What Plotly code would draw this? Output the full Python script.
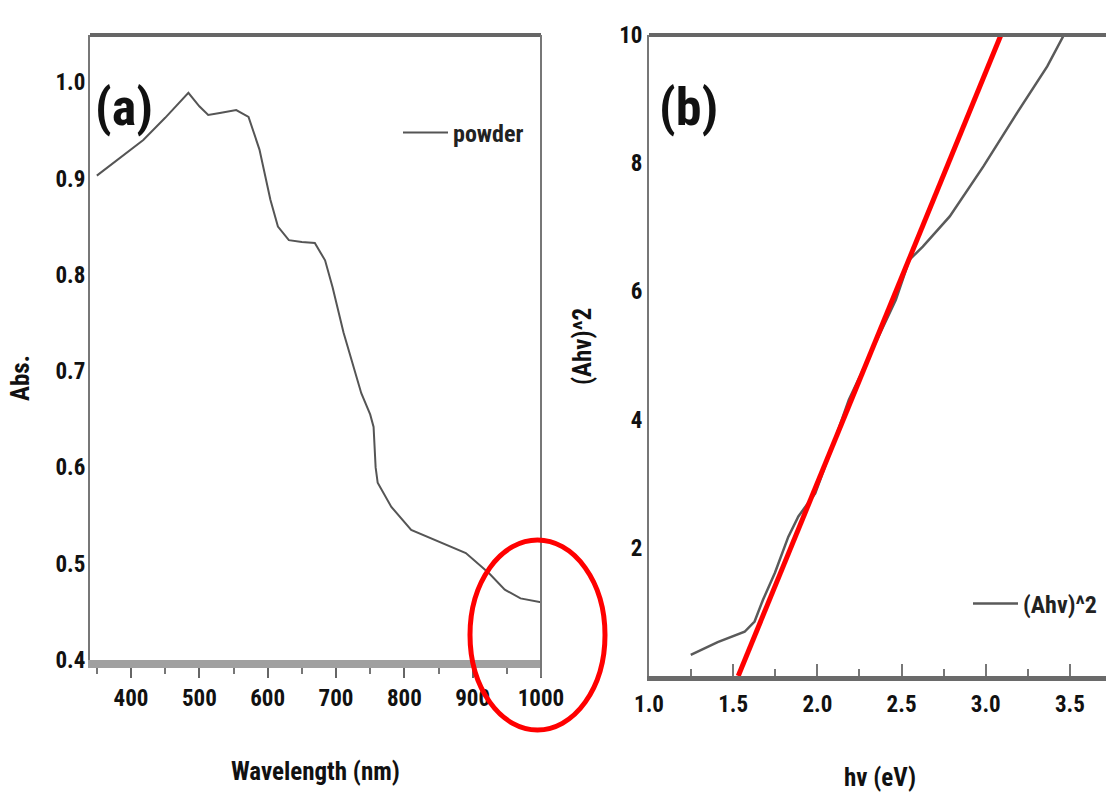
import plotly.graph_objects as go

# ---------------- data ----------------
wavelength = [350, 370, 400, 418, 450, 484, 500, 513, 530, 554, 572, 588, 604, 615,
              631, 650, 669, 684, 695, 711, 737, 741, 750, 755, 758, 761, 781, 810,
              833, 860, 890, 924, 947, 970, 1000]
absorbance = [0.903, 0.914, 0.930, 0.940, 0.963, 0.989, 0.975, 0.966, 0.968, 0.971,
              0.964, 0.930, 0.878, 0.850, 0.836, 0.834, 0.833, 0.815, 0.787, 0.740,
              0.677, 0.670, 0.655, 0.642, 0.600, 0.584, 0.559, 0.535, 0.528, 0.520,
              0.511, 0.490, 0.473, 0.464, 0.460]

photon_energy = [1.248, 1.408, 1.568, 1.627, 1.677, 1.748, 1.827, 1.887, 1.987, 2.067,
                 2.187, 2.326, 2.466, 2.546, 2.626, 2.786, 2.986, 3.185, 3.365, 3.464]
ahv_squared = [0.33, 0.53, 0.69, 0.85, 1.19, 1.61, 2.17, 2.49, 2.85, 3.42,
               4.31, 5.09, 5.87, 6.49, 6.70, 7.17, 7.95, 8.78, 9.51, 10.0]

fit_energy = [1.53, 3.09]
fit_value = [0.0, 10.0]

wl_ticks = [400, 500, 600, 700, 800, 900, 1000]
wl_minor = [350, 450, 550, 650, 750, 850, 950]
abs_ticks = [0.4, 0.5, 0.6, 0.7, 0.8, 0.9, 1.0]
abs_ticktext = ["0.4", "0.5", "0.6", "0.7", "0.8", "0.9", "1.0"]
ev_ticks = [1.0, 1.5, 2.0, 2.5, 3.0, 3.5]
ev_ticktext = ["1.0", "1.5", "2.0", "2.5", "3.0", "3.5"]
ev_minor = [1.25, 1.75, 2.25, 2.75, 3.25]
ahv_ticks = [2, 4, 6, 8, 10]

# ---------------- layout helpers ----------------
W, H = 1106, 803


def px(x):
    return x / W


def py(y):
    return 1 - y / H


FONT = "Roboto Condensed, Liberation Sans Narrow, Arial Narrow, Roboto, Liberation Sans, sans-serif"
tickfont = dict(family=FONT, size=23, color="#111", weight="bold")

fig = go.Figure()
fig.add_trace(go.Scatter(x=wavelength, y=absorbance, xaxis="x", yaxis="y", mode="lines",
                         line=dict(color="#555555", width=2), name="powder", legend="legend"))
fig.add_trace(go.Scatter(x=photon_energy, y=ahv_squared, xaxis="x2", yaxis="y2", mode="lines",
                         line=dict(color="#5a5a5a", width=2.5), name="(Ahv)^2", legend="legend2"))
fig.add_trace(go.Scatter(x=fit_energy, y=fit_value, xaxis="x2", yaxis="y2", mode="lines",
                         line=dict(color="#ff0000", width=5), showlegend=False))

fig.update_layout(
    template="none",
    width=W, height=H,
    margin=dict(l=0, r=0, t=0, b=0, pad=0, autoexpand=False),
    paper_bgcolor="white", plot_bgcolor="white",
    font=dict(family=FONT, color="#111"),
    xaxis=dict(domain=[px(90), px(541)], range=[340, 1000], anchor="y", automargin=False,
               showline=True, linecolor="#a0a0a0", linewidth=8,
               ticks="outside", ticklen=10, tickwidth=2, tickcolor="#666",
               tickvals=wl_ticks, tickfont=tickfont, ticklabelstandoff=0,
               minor=dict(ticks="outside", tickvals=wl_minor, ticklen=6, tickwidth=2, tickcolor="#777"),
               showgrid=False, zeroline=False),
    yaxis=dict(domain=[py(660), py(35)], range=[0.4, 1.049], anchor="x", automargin=False,
               showline=True, linecolor="#777", linewidth=2, ticks="",
               tickvals=abs_ticks, ticktext=abs_ticktext, tickfont=tickfont,
               ticklabelstandoff=-2, showgrid=False, zeroline=False),
    xaxis2=dict(domain=[px(649), 1.0], range=[1.0, 3.714], anchor="y2", automargin=False,
                showline=True, linecolor="#6a6a6a", linewidth=5,
                ticks="inside", ticklen=12, tickwidth=2, tickcolor="#777",
                tickvals=ev_ticks, ticktext=ev_ticktext, tickfont=tickfont,
                ticklabelstandoff=3,
                minor=dict(ticks="inside", tickvals=ev_minor, ticklen=7, tickwidth=2, tickcolor="#777"),
                showgrid=False, zeroline=False),
    yaxis2=dict(domain=[py(676), py(35)], range=[0, 10], anchor="x2", automargin=False,
                showline=True, linecolor="#777", linewidth=2, ticks="",
                tickvals=ahv_ticks, tickfont=tickfont, ticklabelstandoff=0,
                showgrid=False, zeroline=False),
    legend=dict(x=px(398), y=py(133), xanchor="left", yanchor="middle", itemwidth=45,
                bgcolor="rgba(0,0,0,0)", font=dict(family=FONT, size=24, color="#222", weight="bold")),
    legend2=dict(x=px(968), y=py(604), xanchor="left", yanchor="middle", itemwidth=45,
                 bgcolor="rgba(0,0,0,0)", font=dict(family=FONT, size=24, color="#222", weight="bold")),
    showlegend=True,
)

# frame lines
fig.add_shape(type="line", xref="paper", yref="paper", x0=px(90), x1=px(541), y0=py(35), y1=py(35),
              line=dict(color="#666", width=4))
fig.add_shape(type="line", xref="paper", yref="paper", x0=px(541), x1=px(541), y0=py(35), y1=py(677),
              line=dict(color="#777", width=2))
fig.add_shape(type="line", xref="paper", yref="paper", x0=px(649), x1=1.0, y0=py(35), y1=py(35),
              line=dict(color="#666", width=4))
# red highlight ellipse
fig.add_shape(type="circle", xref="paper", yref="paper", x0=px(470), x1=px(605), y0=py(730), y1=py(540),
              line=dict(color="#ff0000", width=5))

titlefont = dict(family=FONT, size=25, color="#111", weight="bold")
ann = [
    dict(text="(a)", x=px(124), y=py(108), font=dict(family=FONT, size=52, color="#111", weight="bold")),
    dict(text="(b)", x=px(688), y=py(108), font=dict(family=FONT, size=52, color="#111", weight="bold")),
    dict(text="Wavelength (nm)", x=px(315), y=py(771), font=titlefont),
    dict(text="hv (eV)", x=px(880), y=py(777), font=titlefont),
    dict(text="Abs.", x=px(20), y=py(378), font=titlefont, textangle=-90),
    dict(text="(Ahv)^2", x=px(583), y=py(347), font=titlefont, textangle=-90),
]
for a in ann:
    fig.add_annotation(xref="paper", yref="paper", showarrow=False, xanchor="center", yanchor="middle", **a)

fig.write_html("out.html")
